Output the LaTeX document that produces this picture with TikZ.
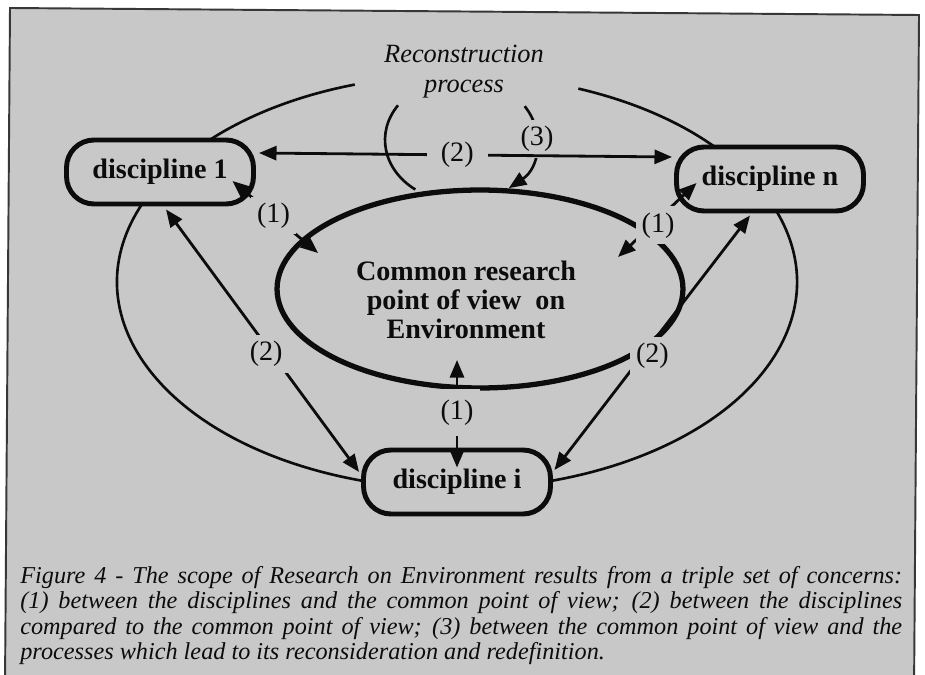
\documentclass[tikz,border=0pt]{standalone}
\usepackage{fontspec}
\setmainfont{Liberation Serif}
\usetikzlibrary{arrows.meta,calc,shapes.geometric}
\definecolor{paper}{RGB}{200,200,200}
\definecolor{ink}{RGB}{12,12,12}
\definecolor{edge}{RGB}{55,55,55}

\begin{document}
\begin{tikzpicture}[x=0.02cm, y=-0.02cm,
  disc/.style={draw=ink, line width=2.8pt, rounded corners=0.55cm, fill=paper,
    minimum width=3.74cm, minimum height=1.28cm, inner sep=0pt,
    font=\fontsize{16}{18}\selectfont\bfseries, text=ink},
  hub/.style={ellipse, draw=ink, line width=3pt, minimum width=8.12cm,
    minimum height=3.96cm, inner sep=0pt},
  thinline/.style={draw=ink, line width=1.5pt},
  link/.style={draw=ink, line width=1.6pt,
    {Triangle[length=10pt,width=8pt]}-{Triangle[length=10pt,width=8pt]}},
  tag/.style={fill=paper, inner sep=3.5pt, font=\fontsize{16}{18}\selectfont, text=ink}
]
\useasboundingbox (0,0) rectangle (925,675);
\fill[white] (0,0) rectangle (925,675);

% framed panel
\filldraw[fill=paper, draw=edge, line width=1.1pt]
  (10,8) -- (919,15) -- (914,692) -- (5,685) -- cycle;

% outer loop through the disciplines
\draw[thinline] (578.3,88.6) arc[start angle=-69.1, end angle=252.5, x radius=340, y radius=207];

% common point of view
\node[hub] (cpv) at (480,289) {};
\node[font=\fontsize{16}{16.6}\selectfont\bfseries, align=center, text=ink] (cpvtext) at (466,300)
  {Common research\\point of view~ on\\Environment};

% disciplines
\node[disc] (d1) at (160,172) {discipline 1};
\node[disc] (dn) at (770,179) {discipline n};
\node[disc] (di) at (457,482) {discipline i};

% reconstruction process loop
\node[font=\fontsize{15}{17}\selectfont\itshape, align=center, text=ink] (rp) at (464,72)
  {Reconstruction\\process};
\draw[thinline] (398.0,105.3) arc[start angle=214, end angle=127, x radius=76, y radius=62];
\draw[thinline, -{Triangle[length=10pt,width=8pt]}] (524.7,106.2)
  arc[start angle=-33, end angle=51, x radius=76, y radius=62];
\node[tag] (t3) at (537,139) {(3)};

% relations between disciplines (2)
\draw[link] ($(d1.east)+(3,-19)$) -- node[tag, pos=.48, inner xsep=8pt] (t2top) {(2)} ($(dn.west)+(-2,-22)$);
\draw[link] ($(d1.south)+(6,3)$) -- node[tag, pos=.55, xshift=-0.12cm] (t2left) {(2)} ($(di.west)+(-2,-10)$);
\draw[link] ($(dn.south)+(-20,2)$) -- node[tag, pos=.55, xshift=0.2cm] (t2right) {(2)} ($(di.east)+(1.5,-12)$);

% relations with the common point of view (1)
\draw[link] ($(d1.east)+(-23.5,9)$) -- node[tag, pos=.48] (t1left) {(1)} ($(cpv.center)+(-162,-36)$);
\draw[link] ($(dn.west)+(22.5,4)$) -- node[tag, pos=.49, yshift=-0.12cm] (t1right) {(1)} ($(cpv.center)+(138,-32)$);
\draw[link] ($(cpv.center)+(-23,71)$) -- node[tag, pos=.49, inner ysep=6pt] (t1low) {(1)} ($(di.north)+(0,20)$);

% caption
\node[anchor=north west, inner sep=0pt, text width=17.64cm, align=justify, text=ink,
  font=\fontsize{13.8}{14.4}\selectfont\itshape] (cap) at (20,566)
  {Figure 4 - The scope of Research on Environment results from a triple set of concerns:\linebreak
   (1) between the disciplines and the common point of view; (2) between the disciplines\linebreak
   compared to the common point of view; (3) between the common point of view and the\linebreak
   processes which lead to its reconsideration and redefinition.};
\end{tikzpicture}
\end{document}
